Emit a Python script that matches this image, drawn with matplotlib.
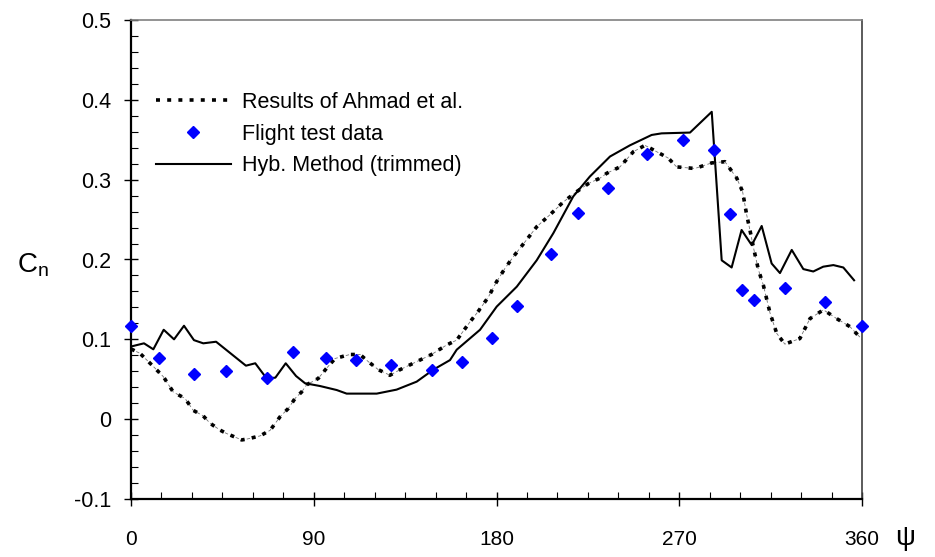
import matplotlib
matplotlib.use("Agg")
import matplotlib.pyplot as plt
from matplotlib.ticker import MultipleLocator

plt.rcParams['font.family'] = ['Liberation Sans', 'DejaVu Sans']

# Results of Ahmad et al. (dotted)
ahmad_psi = [0, 4.4, 11, 16, 20.8, 26.6, 30.7, 35.6, 38.9, 43.8, 47.1, 54.5, 57,
             63.5, 68.5, 73.4, 77.5, 80.8, 84, 86.5, 92.2, 96.4, 100.5, 107.8,
             112.8, 116.9, 121.8, 127.5, 132.5, 139, 148, 155.5, 160.4, 167, 171,
             176, 180, 184.2, 188.3, 194, 199.8, 206.3, 212.9, 219.5, 225.2, 231,
             234.3, 240.8, 247.4, 253.1, 258.9, 264.6, 268.7, 277.7, 286, 292.5,
             298.3, 301.2, 303.2, 304.8, 306.8, 309, 311.4, 314.7, 318, 322, 329.4,
             334.4, 341, 347.5, 354, 360]
ahmad_cn = [0.088, 0.0825, 0.066, 0.053, 0.034, 0.026, 0.011, 0.004, -0.005,
            -0.0136, -0.018, -0.026, -0.025, -0.021, -0.014, 0.003, 0.0135, 0.026,
            0.034, 0.043, 0.051, 0.064, 0.076, 0.081, 0.081, 0.072, 0.062, 0.055,
            0.062, 0.070, 0.081, 0.093, 0.099, 0.122, 0.135, 0.153, 0.172, 0.189,
            0.2035, 0.222, 0.241, 0.256, 0.272, 0.285, 0.295, 0.302, 0.308, 0.316,
            0.335, 0.343, 0.335, 0.327, 0.316, 0.314, 0.321, 0.3225, 0.302, 0.285,
            0.256, 0.237, 0.212, 0.187, 0.168, 0.133, 0.1075, 0.094, 0.101, 0.126,
            0.137, 0.126, 0.116, 0.100]

# Flight test data (diamonds)
flight_psi = [0, 14, 31, 47, 67, 80, 96, 111, 128, 148, 163, 178, 190, 207, 220,
              235, 254, 272, 287, 295, 301, 307, 322, 342, 360]
flight_cn = [0.117, 0.077, 0.057, 0.060, 0.051, 0.084, 0.077, 0.074, 0.068, 0.062,
             0.071, 0.102, 0.142, 0.207, 0.258, 0.290, 0.332, 0.350, 0.337, 0.257,
             0.162, 0.149, 0.164, 0.147, 0.117]

# Hyb. Method (trimmed), solid
hyb_psi = [0, 6.4, 11, 16.1, 21.2, 26.1, 31, 35.6, 41.9, 56.6, 61.2, 66.8, 71.1,
           76.2, 81.3, 85.7, 93.1, 101.3, 106.2, 121, 130.8, 140.7, 148.9, 157.1,
           160.4, 171.9, 180.1, 190, 199.8, 208, 217.8, 226, 235.9, 245.7, 256.4,
           261.3, 275.3, 286, 290.9, 295.8, 300.7, 305.7, 310.6, 315.5, 319.6,
           325.4, 331.1, 336, 340.9, 345.9, 350.8, 356.1]
hyb_cn = [0.091, 0.095, 0.0875, 0.112, 0.100, 0.117, 0.099, 0.095, 0.097, 0.067,
          0.070, 0.051, 0.052, 0.070, 0.054, 0.045, 0.0415, 0.0365, 0.032, 0.032,
          0.037, 0.047, 0.062, 0.074, 0.087, 0.112, 0.141, 0.166, 0.199, 0.233,
          0.279, 0.304, 0.329, 0.343, 0.356, 0.358, 0.359, 0.385, 0.199, 0.190,
          0.237, 0.218, 0.242, 0.195, 0.183, 0.212, 0.188, 0.185, 0.191, 0.193,
          0.190, 0.174]

x_ticks = [0, 90, 180, 270, 360]
y_ticks = [-0.1, 0, 0.1, 0.2, 0.3, 0.4, 0.5]
y_tick_labels = ["-0.1", "0", "0.1", "0.2", "0.3", "0.4", "0.5"]

fig = plt.figure(figsize=(9.35, 5.57), dpi=100)
ax = fig.add_axes([131 / 935, 1 - 499 / 557, 731 / 935, 479 / 557])

ax.plot(ahmad_psi, ahmad_cn, color="0.45", lw=0.6, linestyle=(0, (4, 3)), zorder=2)
ax.plot(ahmad_psi, ahmad_cn, color="black", lw=2.6, linestyle=(0, (1.1, 2.0)),
        label="Results of Ahmad et al.", zorder=3)
ax.plot(flight_psi, flight_cn, linestyle="none", marker="D", ms=6.5,
        color="#0000ff", label="Flight test data", zorder=5, clip_on=False)
ax.plot(hyb_psi, hyb_cn, color="black", lw=1.5, label="Hyb. Method (trimmed)", zorder=4)

ax.set_xlim(0, 360)
ax.set_ylim(-0.1, 0.5)
ax.set_xticks(x_ticks)
ax.set_xticklabels([str(t) for t in x_ticks])
ax.set_yticks(y_ticks)
ax.set_yticklabels(y_tick_labels)
ax.xaxis.set_minor_locator(MultipleLocator(15))
ax.yaxis.set_minor_locator(MultipleLocator(0.02))
ax.tick_params(which="major", direction="inout", length=10, width=1.0, colors="black")
ax.tick_params(axis="x", which="major", pad=17, labelsize=15)
ax.tick_params(axis="y", which="major", pad=9, labelsize=15.5)
ax.tick_params(which="minor", direction="in", length=5, width=0.8)

ax.spines["left"].set_linewidth(1.6)
ax.spines["bottom"].set_linewidth(1.6)
ax.spines["top"].set_color("0.5")
ax.spines["top"].set_linewidth(1.2)
ax.spines["right"].set_color("0.25")
ax.spines["right"].set_linewidth(1.2)

fig.text(33 / 935, 1 - 265 / 557, "C$_\\mathregular{n}$", fontsize=20,
         ha="center", va="center")
fig.text(905 / 935, 1 - 538 / 557, "\u03c8", fontsize=20, ha="center", va="center")

ax.legend(loc="upper left", bbox_to_anchor=(0.022, 0.868), frameon=False,
          fontsize=15.5, handlelength=3.5, handletextpad=0.5, labelspacing=0.5,
          borderaxespad=0)

fig.savefig("out.png", dpi=100)
